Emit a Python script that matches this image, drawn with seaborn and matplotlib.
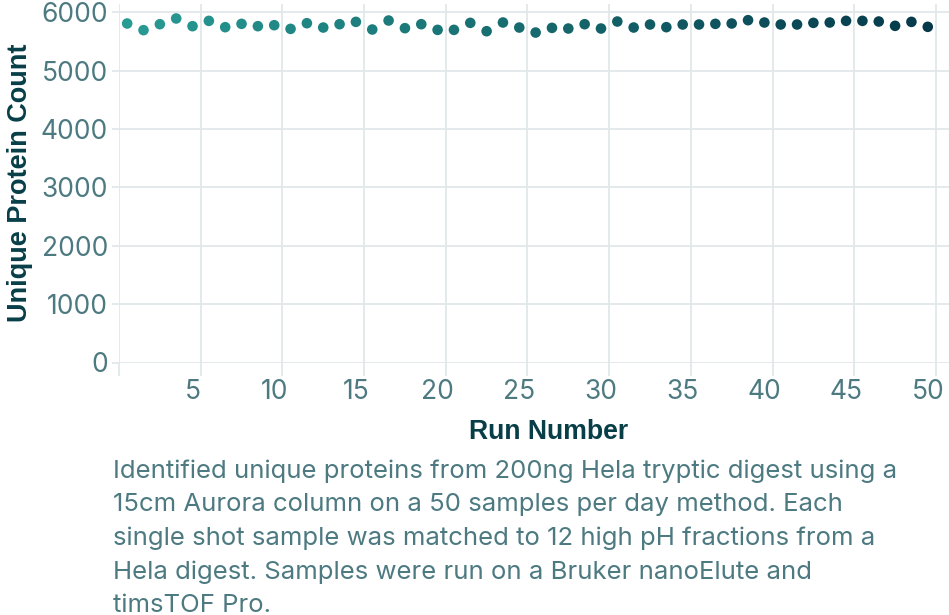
import numpy as np
import pandas as pd
import matplotlib
matplotlib.use("Agg")
import matplotlib.pyplot as plt
from matplotlib.colors import LinearSegmentedColormap
import seaborn as sns

# values
runs = list(range(1, 51))
protein_counts = [
    5806, 5692, 5794, 5892, 5760, 5851, 5743, 5800, 5760, 5777,
    5714, 5811, 5737, 5794, 5834, 5703, 5857, 5726, 5794, 5697,
    5697, 5817, 5674, 5823, 5737, 5651, 5731, 5720, 5794, 5720,
    5840, 5737, 5789, 5743, 5789, 5789, 5800, 5806, 5863, 5823,
    5789, 5789, 5817, 5823, 5851, 5851, 5840, 5766, 5834, 5749,
]
x_ticks = [5, 10, 15, 20, 25, 30, 35, 40, 45, 50]
y_ticks = [0, 1000, 2000, 3000, 4000, 5000, 6000]
caption_lines = [
    "Identified unique proteins from 200ng Hela tryptic digest using a",
    "15cm Aurora column on a 50 samples per day method. Each",
    "single shot sample was matched to 12 high pH fractions from a",
    "Hela digest. Samples were run on a Bruker nanoElute and",
    "timsTOF Pro.",
]

df = pd.DataFrame({"run": runs, "count": protein_counts})

tick_color = "#4d7a81"
title_color = "#073e48"
grid_color = "#e2e8ea"

sns.set_theme(style="white")
plt.rcParams["font.family"] = ["Inter", "DejaVu Sans"]

fig = plt.figure(figsize=(9.49, 6.15), dpi=100)
ax = fig.add_axes([119 / 949, (615 - 362.5) / 615, 830 / 949, 358.5 / 615])

cmap = LinearSegmentedColormap.from_list("teal", ["#289b93", "#05394a"])
sns.scatterplot(data=df, x="run", y="count", hue="run", palette=cmap,
                hue_norm=(1, 50), legend=False, s=58, linewidth=0, ax=ax, zorder=3)

ax.set_xlim(0.5, 51.3)
ax.set_ylim(0, 6140)

# grid lines sit between runs, labels sit on the runs
ax.set_xticks(x_ticks)
ax.set_xticks([0.5 + 5 * k for k in range(11)], minor=True)
ax.set_yticks(y_ticks)
ax.grid(False)
ax.grid(True, axis="x", which="minor", color=grid_color, lw=1.3, zorder=0)
ax.grid(True, axis="y", which="major", color=grid_color, lw=1.3, zorder=0)
ax.tick_params(axis="x", which="major", length=0, pad=12, labelsize=19, labelcolor=tick_color)
ax.tick_params(axis="x", which="minor", length=9, width=1.3, color=grid_color, bottom=True)
ax.tick_params(axis="y", which="major", length=5, width=1.3, color=grid_color, pad=3,
               labelsize=19, labelcolor=tick_color, left=True)
for s in ax.spines.values():
    s.set_visible(False)

ax.set_xlabel("Run Number", fontsize=19.2, fontweight="bold", color=title_color,
              family=["Liberation Sans", "DejaVu Sans"])
ax.set_ylabel("Unique Protein Count", fontsize=19.5, fontweight="bold", color=title_color,
              family=["Liberation Sans", "DejaVu Sans"])
ax.xaxis.set_label_coords(0.518, -0.158)
ax.yaxis.set_label_coords(-0.104, 0.50)

for i, line in enumerate(caption_lines):
    fig.text(113 / 949, 1 - (478 + 33.5 * i) / 615, line, fontsize=18.5, color=tick_color,
             ha="left", va="baseline")

fig.savefig("out.png", dpi=100)
